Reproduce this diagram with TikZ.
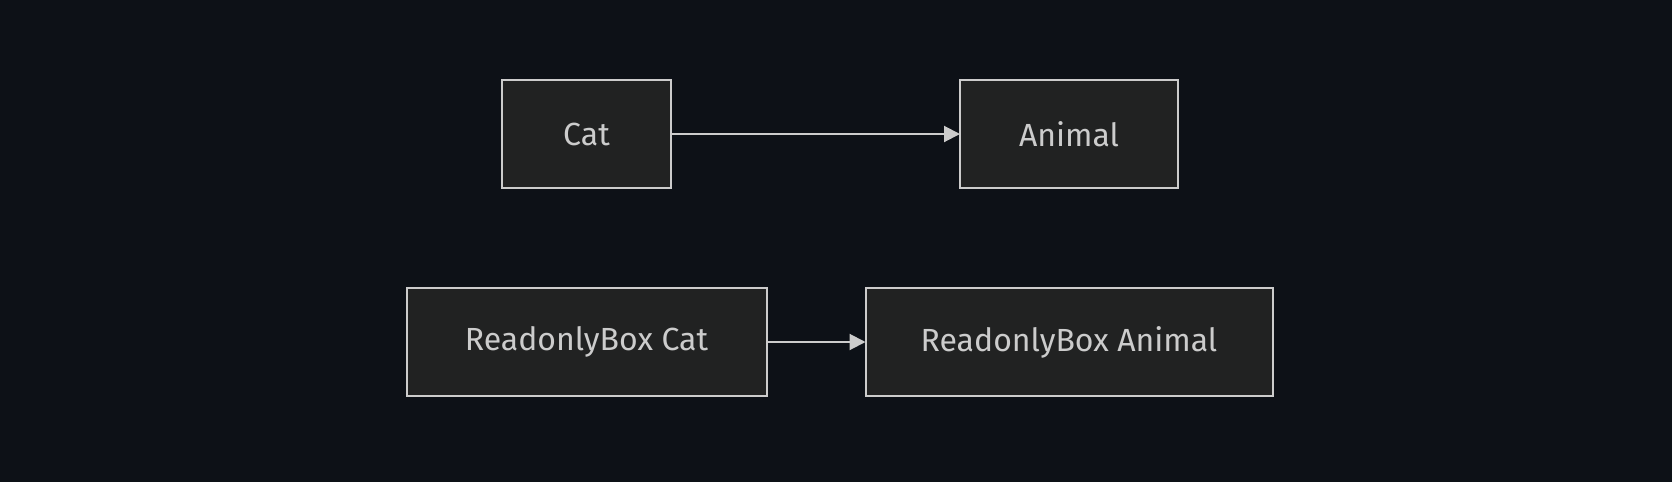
\documentclass[tikz,border=0pt]{standalone}
\usepackage{fontspec}
\setmainfont{Fira Sans}
\usetikzlibrary{arrows.meta,positioning}
\definecolor{pagebg}{RGB}{13,17,23}
\definecolor{boxfill}{RGB}{33,34,34}
\definecolor{boxline}{RGB}{204,204,204}
\definecolor{boxtext}{RGB}{204,204,204}

\begin{document}
\begin{tikzpicture}[
        x=1pt,y=1pt,
        box/.style={draw=boxline,fill=boxfill,line width=2pt,
                    minimum height=108pt,text=boxtext,outer sep=0pt,
                    font=\fontsize{32}{38}\selectfont,inner sep=0pt},
        arr/.style={-{Triangle[length=16pt,width=16pt]},draw=boxline,
                    line width=2pt},
      ]
        \fill[pagebg](0,0)rectangle(1672,-482);
        \useasboundingbox(0,0)rectangle(1672,-482);
        \node[box,minimum width=169pt](cat)at(586.5,-134){Cat};
        \node[box,minimum width=218pt,right=289pt of cat](animal){Animal};
        \node[box,minimum width=360pt,below=100pt of cat](rbcat){ReadonlyBox Cat};
        \node[box,minimum width=407pt,right=99pt of rbcat](rbanimal){ReadonlyBox Animal};
        \draw[arr](cat)--(animal);
        \draw[arr](rbcat)--(rbanimal);
      \end{tikzpicture}
\end{document}
